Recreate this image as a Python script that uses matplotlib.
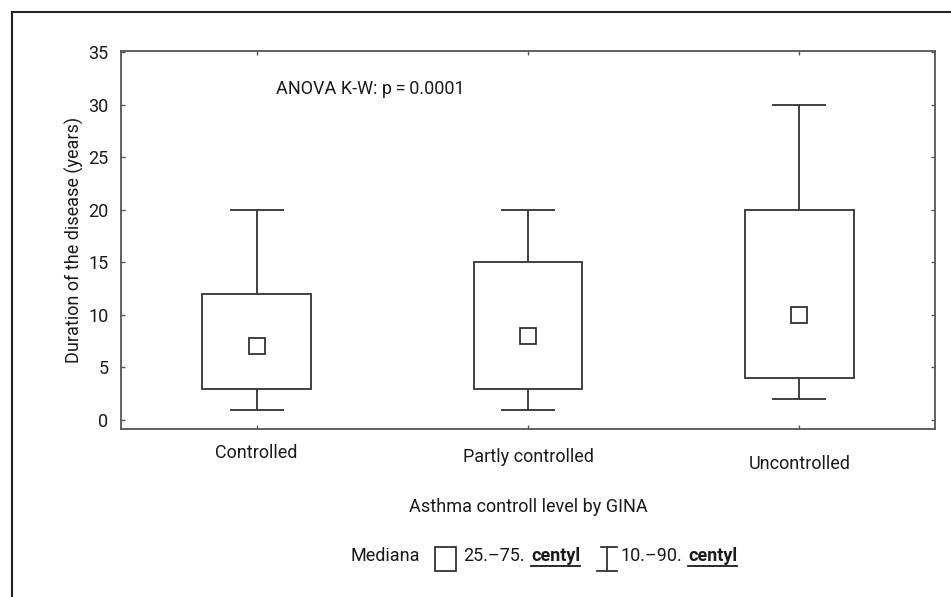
import matplotlib
matplotlib.use('Agg')
import matplotlib.pyplot as plt
from matplotlib.lines import Line2D

# data
groups = ['Controlled', 'Partly controlled', 'Uncontrolled']
p10 = [1, 1, 2]
p25 = [3, 3, 4]
median = [7, 8, 10]
p75 = [12, 15, 20]
p90 = [20, 20, 30]

yticks = [0, 5, 10, 15, 20, 25, 30, 35]
anova_text = 'ANOVA K-W: p\u2009=\u20090.0001'

plt.rcParams['font.family'] = ['Roboto', 'DejaVu Sans']
FS = 13

W, H = 951, 597
fig = plt.figure(figsize=(W / 100, H / 100), dpi=100)

# axes box in pixel terms
left, right, top, bottom = 121, 935, 51, 429
ax = fig.add_axes([left / W, 1 - bottom / H, (right - left) / W, (bottom - top) / H])

line_col = '#333333'
txt_col = '#1a1a1a'
pos = [1, 2, 3]

ax.bar(pos, [q3 - q1 for q1, q3 in zip(p25, p75)], bottom=p25, width=0.4,
       facecolor='none', edgecolor=line_col, linewidth=1.3, zorder=2)
ax.vlines(pos, p75, p90, color=line_col, linewidth=1.3)
ax.vlines(pos, p10, p25, color=line_col, linewidth=1.3)
ax.hlines(p90, [p - 0.1 for p in pos], [p + 0.1 for p in pos], color=line_col, linewidth=1.3)
ax.hlines(p10, [p - 0.1 for p in pos], [p + 0.1 for p in pos], color=line_col, linewidth=1.3)
ax.plot(pos, median, linestyle='none', marker='s', markersize=12,
        markerfacecolor='white', markeredgecolor=line_col, markeredgewidth=1.3, zorder=3)

ax.set_xlim(0.5, 3.5)
ax.set_ylim(-0.85, 35.1)
ax.set_yticks(yticks)
ax.set_xticks(pos)
ax.set_xticklabels(groups)

for s in ax.spines.values():
    s.set_color('#555555')
    s.set_linewidth(1.3)
ax.tick_params(direction='in', length=3, width=1, color='#555555',
               top=True, right=True, labelsize=FS, labelcolor=txt_col)
ax.tick_params(axis='y', pad=9)
# category labels sit at staggered heights in the original
for tick, pad in zip(ax.xaxis.get_major_ticks(), [10.7, 14, 18.7]):
    tick.set_pad(pad)

ax.set_ylabel('Duration of the disease (years)', fontsize=FS, color=txt_col)
ax.yaxis.set_label_coords(-0.045, 0.5)
ax.set_xlabel('Asthma controll level by GINA', fontsize=FS, color=txt_col, va='center')
ax.xaxis.set_label_coords(0.5, -(507 - bottom) / (bottom - top))

ax.text(1.07, 31.5, anova_text, fontsize=FS, va='center', color=txt_col)

# outer frame (top and left edges only visible)
fig.add_artist(Line2D([12 / W, 1], [1 - 12 / H, 1 - 12 / H], color='#222222', linewidth=1.5))
fig.add_artist(Line2D([12 / W, 12 / W], [1 - 12 / H, 0], color='#222222', linewidth=1.5))

# legend row at the bottom
ly = 1 - 556 / H
fig.text(350 / W, ly, 'Mediana', fontsize=FS, va='center', color=txt_col)
# box symbol
fig.add_artist(plt.Rectangle((435 / W, 1 - 571 / H), 21 / W, 24 / H, transform=fig.transFigure,
                             facecolor='none', edgecolor=line_col, linewidth=1.3))
fig.text(463 / W, ly, '25.\u201375.', fontsize=FS, va='center', color=txt_col)
c1 = fig.text(531 / W, ly, 'centyl', fontsize=FS, va='center', fontweight='bold', color=txt_col)
# whisker symbol
wx = 607 / W
fig.add_artist(Line2D([wx, wx], [1 - 547 / H, 1 - 571 / H], color=line_col, linewidth=1.3))
fig.add_artist(Line2D([601 / W, 617 / W], [1 - 547 / H, 1 - 547 / H], color=line_col, linewidth=1.3))
fig.add_artist(Line2D([597 / W, 617 / W], [1 - 571 / H, 1 - 571 / H], color=line_col, linewidth=1.3))
fig.text(621 / W, ly, '10.\u201390.', fontsize=FS, va='center', color=txt_col)
c2 = fig.text(688 / W, ly, 'centyl', fontsize=FS, va='center', fontweight='bold', color=txt_col)

# underline the bold words
renderer = fig.canvas.get_renderer()
for t in (c1, c2):
    bb = t.get_window_extent(renderer).transformed(fig.transFigure.inverted())
    fig.add_artist(Line2D([bb.x0, bb.x1], [bb.y0 - 1 / H, bb.y0 - 1 / H], color=txt_col, linewidth=1.3))

fig.savefig('out.png', dpi=100)
